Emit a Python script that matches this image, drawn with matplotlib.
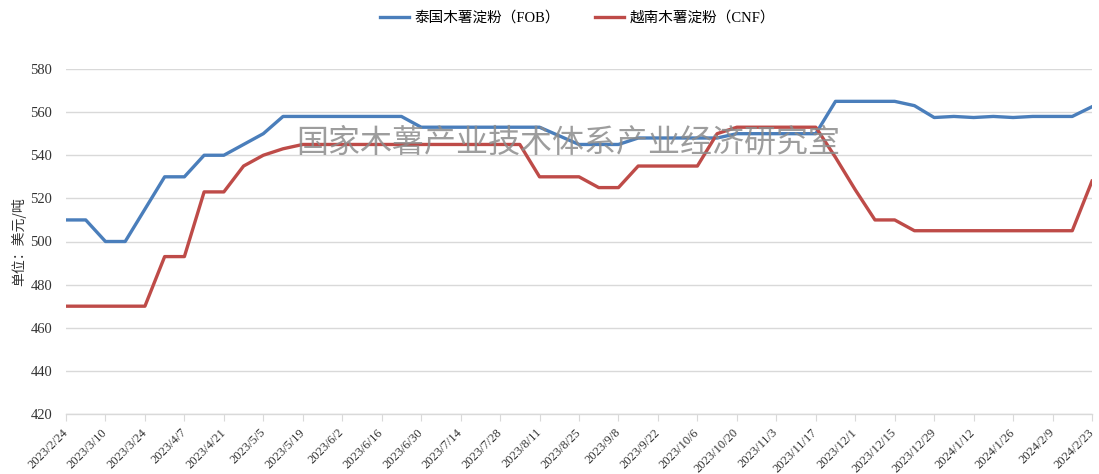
import matplotlib
matplotlib.use("Agg")
import matplotlib.pyplot as plt

plt.rcParams['font.family'] = ['Liberation Serif', 'Noto Sans CJK SC', 'DejaVu Sans']

tick_labels = ["2023/2/24", "2023/3/10", "2023/3/24", "2023/4/7", "2023/4/21", "2023/5/5",
               "2023/5/19", "2023/6/2", "2023/6/16", "2023/6/30", "2023/7/14", "2023/7/28",
               "2023/8/11", "2023/8/25", "2023/9/8", "2023/9/22", "2023/10/6", "2023/10/20",
               "2023/11/3", "2023/11/17", "2023/12/1", "2023/12/15", "2023/12/29", "2024/1/12",
               "2024/1/26", "2024/2/9", "2024/2/23"]

thai_fob = [510, 510, 500, 500, 515, 530, 530, 540, 540, 545, 550, 558,
            558, 558, 558, 558, 558, 558, 553, 553, 553, 553, 553, 553,
            553, 549, 545, 545, 545, 548, 548, 548, 548, 548, 550, 550,
            550, 550, 550, 565, 565, 565, 565, 563, 557.5, 558, 557.5, 558,
            557.5, 558, 558, 558, 562.5]

viet_cnf = [470, 470, 470, 470, 470, 493, 493, 523, 523, 535, 540, 543,
            545, 545, 545, 545, 545, 545, 545, 545, 545, 545, 545, 545,
            530, 530, 530, 525, 525, 535, 535, 535, 535, 550, 553, 553,
            553, 553, 553, 539, 524, 510, 510, 505, 505, 505, 505, 505,
            505, 505, 505, 505, 528]

series_names = ["泰国木薯淀粉（FOB）", "越南木薯淀粉（CNF）"]
colors = ["#4A7EBB", "#BE4B48"]

fig = plt.figure(figsize=(10.99, 4.74), dpi=100)
ax = fig.add_axes([66/1099, 1-414/474, (1092-66)/1099, (414-69)/474])

x = list(range(len(thai_fob)))
ax.plot(x, thai_fob, color=colors[0], lw=2.4, label=series_names[0], solid_joinstyle='round')
ax.plot(x, viet_cnf, color=colors[1], lw=2.4, label=series_names[1], solid_joinstyle='round')

ax.set_xlim(0, len(thai_fob) - 1)
ax.set_ylim(420, 580)
ax.set_yticks(range(420, 581, 20))
ax.tick_params(axis='y', length=0, labelsize=10.5, pad=10, colors='#333333')
ax.set_xticks(range(0, len(thai_fob), 2))
ax.set_xticklabels(tick_labels, rotation=45, ha='right', va='center',
                   rotation_mode='anchor', fontsize=9)
ax.tick_params(axis='x', length=5, color='#D9D9D9', pad=7, labelcolor='#333333')

ax.grid(axis='y', color='#D9D9D9', lw=1)
ax.set_axisbelow(True)
for s in ['top', 'right', 'left']:
    ax.spines[s].set_visible(False)
ax.spines['bottom'].set_color('#D9D9D9')
ax.spines['bottom'].set_linewidth(1)

ax.set_ylabel("单位：美元/吨", fontsize=10, family=['Noto Sans CJK SC'], color='#333333', labelpad=3)

ax.text(0.49, 0.785, "国家木薯产业技术体系产业经济研究室", transform=ax.transAxes,
        fontsize=23, color='#8C8C8C', alpha=0.85, ha='center', va='center',
        family=['Noto Sans CJK SC'], fontweight='light')

leg = fig.legend(loc='center', bbox_to_anchor=(0.5255, 0.962), ncol=2, frameon=False,
                 handlelength=2.0, handletextpad=0.4, columnspacing=2.4,
                 prop={'family': ['Liberation Serif', 'Noto Sans CJK SC'], 'size': 10.5})

fig.savefig("out.png", dpi=100)
